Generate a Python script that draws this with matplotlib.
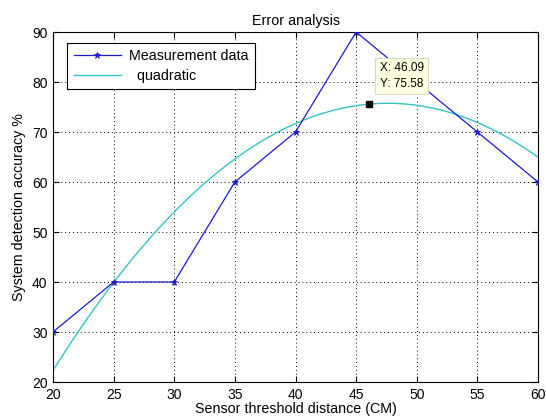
import numpy as np
import matplotlib
matplotlib.use("Agg")
import matplotlib.pyplot as plt

plt.rcParams['font.family'] = ['Liberation Sans', 'DejaVu Sans']

distance = [20, 25, 30, 35, 40, 45, 50, 55, 60]
accuracy = [30, 40, 40, 60, 70, 90, 80, 70, 60]
x_ticks = [20, 25, 30, 35, 40, 45, 50, 55, 60]
y_ticks = [20, 30, 40, 50, 60, 70, 80, 90]
tip_x = 46.09

coef = np.polyfit(distance, accuracy, 2)
xf = np.linspace(20, 60, 400)
yf = np.polyval(coef, xf)
tip_y = np.polyval(coef, tip_x)

fig = plt.figure(figsize=(5.46, 4.16), dpi=100)
ax = fig.add_axes([53/546, 34/416, 485/546, 350/416])

ax.plot(distance, accuracy, color='#1a1acc', lw=0.9, marker='*', ms=5,
        markeredgewidth=0.6, label='Measurement data', zorder=3)
ax.plot(xf, yf, color='#33c4c4', lw=1.0, label='  quadratic', zorder=2)

ax.plot([tip_x], [tip_y], 's', color='black', ms=5, zorder=5)
ax.annotate(f"X: {tip_x:.2f}\nY: {tip_y:.2f}", xy=(tip_x, tip_y),
            xytext=(7.5, 10.5), textcoords='offset points', fontsize=8.5,
            va='bottom', ha='left', linespacing=1.35,
            bbox=dict(boxstyle='square,pad=0.4', fc='#ffffe1', ec='#d8d8c8', lw=0.8),
            zorder=6)

ax.set_xlim(20, 60)
ax.set_ylim(20, 90)
ax.set_xticks(x_ticks)
ax.set_yticks(y_ticks)
ax.tick_params(direction='in', length=4, labelsize=10, top=True, right=True, pad=4)
ax.grid(True, color='black', linestyle=(0, (1, 3)), lw=0.7)
for s in ax.spines.values():
    s.set_linewidth(0.8)

ax.set_title('Error analysis', fontsize=10.3, pad=5)
ax.set_xlabel('Sensor threshold distance (CM)', fontsize=10.3, labelpad=0)
ax.set_ylabel('System detection accuracy %', fontsize=10.3, labelpad=4)

leg = ax.legend(loc='upper left', bbox_to_anchor=(0.029, 0.969), fontsize=10.3,
                fancybox=False, edgecolor='black', framealpha=1,
                handlelength=3.3, borderpad=0.45, labelspacing=0.4,
                handletextpad=0.6, borderaxespad=0)
leg.get_frame().set_linewidth(0.8)

fig.savefig('out.png', dpi=100)
